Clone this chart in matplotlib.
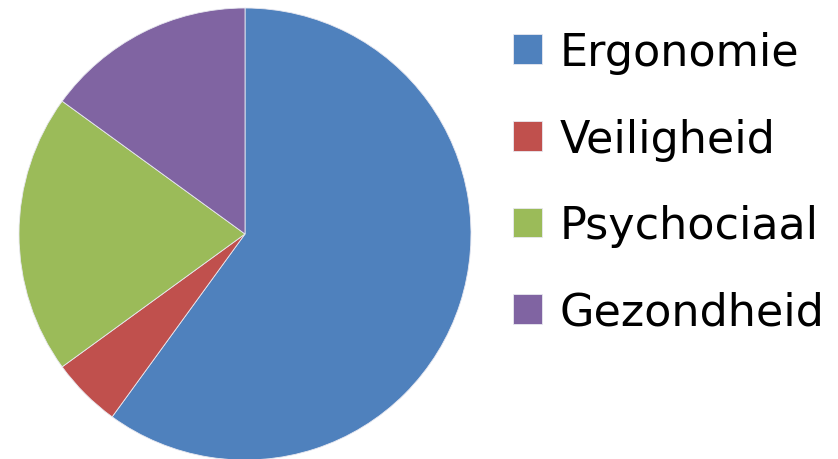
import matplotlib.pyplot as plt

labels = ["Ergonomie", "Veiligheid", "Psychociaal", "Gezondheid"]
shares = [60, 5, 20, 15]
colors = ["#4F81BD", "#C0504D", "#9BBB59", "#8064A2"]

W, H = 838, 460
fig = plt.figure(figsize=(W / 100, H / 100), dpi=100)

# pie centre (245, 235) px from top-left, radius 226 px
cx, cy, r = 245, 235, 226
ax = fig.add_axes([(cx - r) / W, (H - cy - r) / H, 2 * r / W, 2 * r / H])
wedges, _ = ax.pie(shares, colors=colors, startangle=90, counterclock=False,
                   radius=1, wedgeprops=dict(edgecolor="#e8e8f0", linewidth=0.6))
ax.set_xlim(-1, 1)
ax.set_ylim(-1, 1)
ax.set_aspect("equal")
ax.axis("off")

fig.legend(wedges, labels, loc="upper left", bbox_to_anchor=(513 / W, 1 - 32 / H),
           frameon=False, borderpad=0, borderaxespad=0,
           prop=dict(family="DejaVu Sans", size=32),
           handlelength=0.66, handleheight=0.66, handletextpad=0.38,
           labelspacing=0.98)

fig.savefig("out.png", dpi=100)
